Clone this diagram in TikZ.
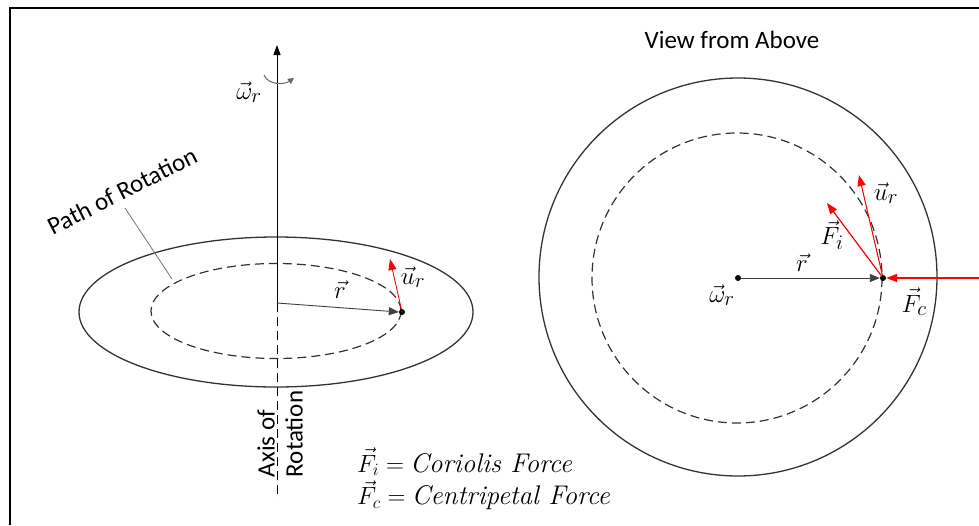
\documentclass[tikz,border=0pt]{standalone}
\usepackage{fontspec}
\setmainfont{Carlito}
\newfontfamily\lmfont{Latin Modern Roman}
\usetikzlibrary{arrows.meta}
\begin{document}
\begin{tikzpicture}[x=1pt,y=-1pt,
  lab/.style={font=\fontsize{25}{28}\selectfont, inner sep=0pt},
  mlab/.style={font=\fontsize{30}{34}\selectfont, inner sep=0pt},
  leg/.style={font=\fontsize{27}{31}\selectfont, inner sep=0pt},
  dot/.style={circle,fill=black,inner sep=0pt,minimum size=6pt},
  ring/.style={line width=1.3pt, draw=black!80},
  dring/.style={line width=1.2pt, draw=black!80, dash pattern=on 9pt off 5pt},
  vecarrow/.style={-{Triangle[length=10pt,width=8pt]}, line width=0.9pt, draw=black!75},
  redarrow/.style={-{Triangle[length=11pt,width=8pt]}, draw=red, fill=red},
  leader/.style={line width=0.8pt, draw=black!55},
]
\useasboundingbox (0,0) rectangle (979,525);
\draw[line width=2.4pt] (10,525) -- (10,8) -- (979,8);

% ---------- left: side view ----------
\coordinate (axtop) at (277,45);
\coordinate (rs) at (277,303);
\coordinate (axbot) at (277,499);
\draw[ring] (276,312) ellipse [x radius=197, y radius=75];
\draw[dring] (276,311) ellipse [x radius=125, y radius=47.5];
\draw[line width=1pt, -{Triangle[length=10pt,width=7pt]}] (rs) -- (axtop);
\draw[line width=1pt, dash pattern=on 9pt off 5pt] (rs) -- (axbot);

% rotation indicator
\coordinate (cs) at (264,75);
\coordinate (ce) at (294,78);
\draw[line width=1pt, draw=black!60, -{Triangle[length=6pt,width=6pt]}]
  (cs) .. controls (268,85) and (284,85) .. (ce);
\node[mlab] (wl) at (249,92) {$\vec{\omega}_r$};

\node[dot] (P1) at (402,312) {};
\draw[vecarrow] (rs) -- (P1.west);
\coordinate (ut1) at (390,259);
\draw[redarrow, line width=0.8pt] (P1) -- (ut1);
\node[mlab] (rl1) at (340,290) {$\vec{r}$};
\node[mlab] (ul1) at (413,277) {$\vec{u}_r$};

% path of rotation label
\node[lab, rotate=27] (pr) at (122,191) {Path of Rotation};
\coordinate (pa) at (125,208);
\coordinate (pb) at (172,279);
\draw[leader] (pa) -- (pb);

\node[lab, rotate=90, align=left] (ax) at (280,434) {Axis of\\Rotation};

% legend
\node[leg, anchor=west] (lg1) at (357,462) {$\vec{F}_i = $ {\lmfont\itshape Coriolis Force}};
\node[leg, anchor=west] (lg2) at (357,495) {$\vec{F}_c = $ {\lmfont\itshape Centripetal Force}};

% ---------- right: view from above ----------
\node[lab] (vt) at (732,40) {View from Above};
\draw[ring] (738,277) circle [radius=199];
\draw[dring] (737,278) circle [radius=145];
\node[dot] (C) at (738,278) {};
\node[dot] (P2) at (883,278) {};
\draw[vecarrow] (C) -- (P2.west);
\coordinate (fcs) at (979,278);
\draw[redarrow, line width=1.6pt] (fcs) -- (P2.east);
\coordinate (fit) at (827,203);
\draw[redarrow, line width=1.2pt] (P2) -- (fit);
\coordinate (urt) at (859,175);
\draw[redarrow, line width=1pt] (P2) -- (urt);

\node[mlab] (rl2) at (802,263) {$\vec{r}$};
\node[mlab] (wl2) at (722,295) {$\vec{\omega}_r$};
\node[mlab] (fcl) at (914,302) {$\vec{F}_c$};
\node[mlab] (fil) at (832,235) {$\vec{F}_i$};
\node[mlab] (ul2) at (886,193) {$\vec{u}_r$};
\end{tikzpicture}
\end{document}
